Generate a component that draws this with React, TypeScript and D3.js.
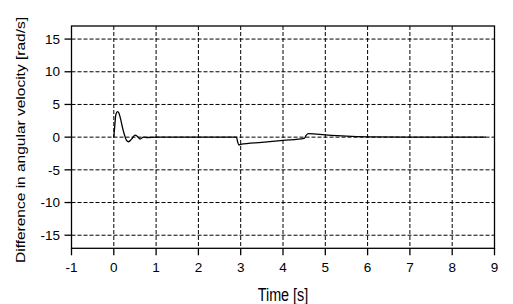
import React from "react";
import * as d3 from "d3";

const xTicks = [-1, 0, 1, 2, 3, 4, 5, 6, 7, 8, 9];
const yTicks = [-15, -10, -5, 0, 5, 10, 15];
const timeS = [0, 0.02, 0.05, 0.09, 0.12, 0.16, 0.2, 0.25, 0.3, 0.35, 0.42, 0.5, 0.56, 0.62, 0.7, 0.8, 1.0, 2.9, 2.93, 2.96, 3.0, 3.5, 4.0, 4.5, 4.55, 4.6, 4.8, 5.0, 5.5, 6.0, 7.0, 8.8];
const diffVel = [0, 1.5, 3.5, 3.9, 3.7, 2.8, 1.6, 0.4, -0.5, -0.7, -0.3, 0.3, 0.1, -0.3, 0.0, -0.05, 0, 0, -0.8, -1.2, -1.1, -0.8, -0.5, -0.2, 0.3, 0.55, 0.45, 0.35, 0.15, 0.05, 0, 0];

export default function App() {
  const W = 513, H = 304;
  const x = d3.scaleLinear().domain([-1, 9]).range([71.5, 494.5]);
  const y = d3.scaleLinear().domain([-17, 17]).range([248.3, 26]);
  const pts = timeS.map((t, i) => [t, diffVel[i]] as [number, number]);
  const line = d3.line<[number, number]>().x(d => x(d[0])).y(d => y(d[1])).curve(d3.curveMonotoneX);
  const font = "'Liberation Sans', Arial, sans-serif";
  return (
    <svg width={W} height={H} style={{ position: "absolute", left: 0, top: 0, background: "#fff" }} fontFamily={font}>
      <rect x={0} y={0} width={W} height={H} fill="#fff" />
      {xTicks.filter(t => t > -1 && t < 9).map(t => (
        <line key={"gx" + t} x1={x(t)} x2={x(t)} y1={y(17)} y2={y(-17)} stroke="#000" strokeWidth={1} strokeDasharray="4,2" />
      ))}
      {yTicks.map(t => (
        <line key={"gy" + t} x1={x(-1)} x2={x(9)} y1={y(t)} y2={y(t)} stroke="#000" strokeWidth={1} strokeDasharray="4,2" />
      ))}
      <path d={line(pts) || ""} fill="none" stroke="#000" strokeWidth={1.3} />
      <rect x={x(-1)} y={y(17)} width={x(9) - x(-1)} height={y(-17) - y(17)} fill="none" stroke="#000" strokeWidth={1.3} />
      {xTicks.map(t => (
        <g key={"tx" + t}>
          <line x1={x(t)} x2={x(t)} y1={y(-17)} y2={y(-17) + 7} stroke="#000" strokeWidth={1.3} />
          <text x={x(t)} y={272} textAnchor="middle" fontSize={13.5} fill="#000">{t}</text>
        </g>
      ))}
      {yTicks.map(t => (
        <g key={"ty" + t}>
          <line x1={x(-1) - 7} x2={x(-1)} y1={y(t)} y2={y(t)} stroke="#000" strokeWidth={1.3} />
          <text x={60} y={y(t) + 4.7} textAnchor="end" fontSize={13.5} fill="#000">{t}</text>
        </g>
      ))}
      <text x={283} y={301} textAnchor="middle" fontSize={18} textLength={50.6} lengthAdjust="spacingAndGlyphs" fill="#000">Time [s]</text>
      <text transform="translate(24.5,140) rotate(-90)" textAnchor="middle" fontSize={12.5} textLength={246} lengthAdjust="spacingAndGlyphs" fill="#000">Difference in angular velocity [rad/s]</text>
    </svg>
  );
}
